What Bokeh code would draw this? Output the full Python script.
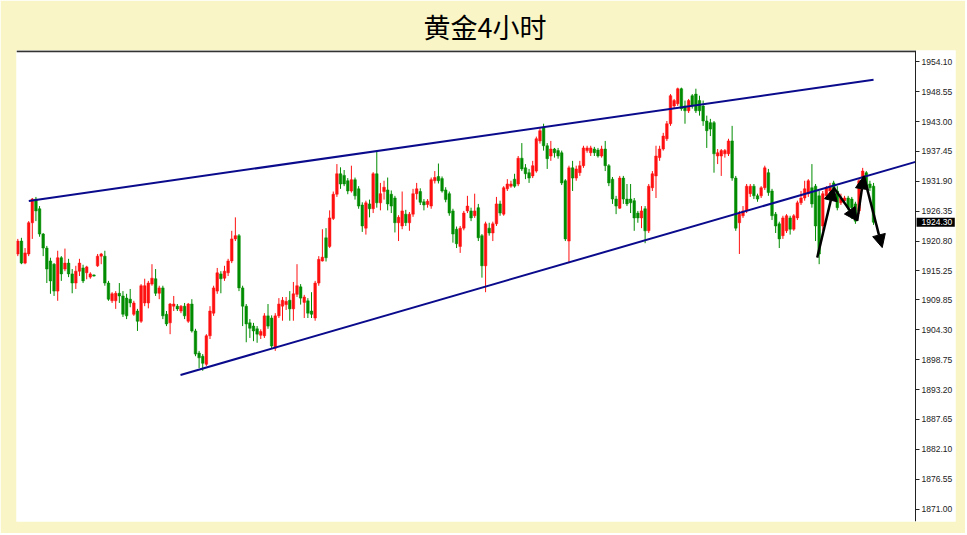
from bokeh.plotting import figure
from bokeh.models import (ColumnDataSource, Range1d, FixedTicker, PrintfTickFormatter,
                          Arrow, NormalHead)
from bokeh.core.properties import value
from bokeh.embed import file_html
from bokeh.resources import INLINE

# ---- data (4-hour gold candles) ----
opens = [1918.4, 1920.8, 1916.7, 1918.4, 1924.2, 1928.6, 1926.8, 1922.1, 1919.5, 1917.1,
         1916.5, 1911.5, 1917.7, 1915.6, 1916.7, 1914.7, 1913.0, 1915.2, 1915.8, 1914.9,
         1914.1, 1914.5, 1916.2, 1918.0, 1918.0, 1913.0, 1909.7, 1909.7, 1911.1, 1910.6,
         1910.2, 1910.0, 1907.2, 1907.8, 1905.9, 1909.3, 1909.3, 1912.8, 1913.8, 1911.1,
         1912.1, 1907.2, 1905.6, 1908.7, 1908.7, 1907.8, 1908.7, 1905.9, 1909.1, 1904.1,
         1900.0, 1899.4, 1897.9, 1903.2, 1907.4, 1911.5, 1914.7, 1913.9, 1914.9, 1917.1,
         1921.2, 1921.8, 1912.1, 1908.7, 1905.6, 1905.0, 1904.5, 1903.3, 1903.2, 1906.9,
         1906.5, 1900.9, 1906.9, 1908.7, 1909.0, 1909.8, 1908.2, 1910.9, 1912.3, 1909.4,
         1909.7, 1907.8, 1906.5, 1913.0, 1917.1, 1921.4, 1919.8, 1925.0, 1929.5, 1933.3,
         1933.0, 1932.0, 1930.1, 1932.2, 1930.5, 1927.5, 1923.2, 1927.7, 1926.8, 1933.3,
         1927.9, 1930.0, 1930.3, 1929.5, 1928.8, 1924.2, 1923.6, 1925.8, 1924.2, 1925.8,
         1929.6, 1930.0, 1928.1, 1927.6, 1927.3, 1932.0, 1932.8, 1932.4, 1930.3, 1929.6,
         1926.4, 1923.0, 1919.8, 1923.2, 1926.4, 1926.4, 1925.5, 1927.0, 1921.8, 1916.2,
         1923.2, 1922.3, 1924.0, 1927.7, 1925.8, 1930.5, 1931.0, 1932.3, 1931.4, 1936.2,
         1934.4, 1933.5, 1932.9, 1933.8, 1939.4, 1941.8, 1938.5, 1936.6, 1937.9, 1937.6,
         1937.2, 1932.0, 1920.8, 1934.4, 1932.5, 1933.5, 1934.8, 1937.6, 1937.2, 1937.9,
         1937.7, 1936.6, 1937.9, 1934.8, 1932.3, 1928.6, 1926.9, 1932.5, 1928.6, 1928.6,
         1928.3, 1926.0, 1925.1, 1926.8, 1922.7, 1930.7, 1932.9, 1936.3, 1937.9, 1939.8,
         1942.6, 1945.9, 1946.3, 1949.1, 1945.9, 1945.0, 1947.8, 1948.1, 1946.9, 1945.9,
         1943.1, 1942.8, 1942.8, 1936.6, 1936.6, 1937.0, 1937.0, 1939.4, 1932.5, 1924.2,
         1925.5, 1926.4, 1929.6, 1931.0, 1929.2, 1929.2, 1930.7, 1933.5, 1930.1, 1925.8,
         1924.0, 1921.8, 1922.7, 1925.1, 1923.0, 1925.1, 1927.9, 1928.8, 1929.6, 1930.7,
         1931.0, 1929.2, 1923.6, 1929.2, 1930.1, 1931.6, 1930.1, 1927.9, 1928.3, 1928.8,
         1928.6, 1927.7, 1926.4, 1932.5, 1933.5, 1931.4, 1931.0]
highs = [1921.2, 1921.4, 1919.5, 1924.5, 1928.8, 1929.0, 1927.3, 1922.3, 1919.9, 1917.7,
         1916.7, 1919.0, 1918.0, 1919.4, 1917.5, 1915.6, 1916.2, 1917.5, 1916.4, 1916.2,
         1915.0, 1914.6, 1918.4, 1918.6, 1919.0, 1913.4, 1911.3, 1911.5, 1913.0, 1911.5,
         1911.0, 1911.9, 1909.7, 1908.2, 1912.8, 1913.8, 1913.4, 1916.5, 1915.6, 1912.5,
         1912.5, 1907.8, 1909.3, 1910.6, 1909.1, 1908.9, 1909.3, 1909.3, 1910.0, 1904.5,
         1900.4, 1899.8, 1903.5, 1908.7, 1912.5, 1915.8, 1915.2, 1916.2, 1917.5, 1922.7,
         1925.2, 1922.1, 1912.5, 1909.1, 1906.3, 1905.6, 1905.0, 1904.4, 1907.4, 1909.1,
         1907.0, 1907.4, 1910.2, 1910.4, 1910.4, 1911.5, 1913.2, 1916.5, 1912.8, 1910.8,
         1910.2, 1911.3, 1913.4, 1918.0, 1923.0, 1923.2, 1926.5, 1930.0, 1935.1, 1934.5,
         1934.0, 1932.5, 1934.8, 1932.6, 1931.0, 1928.0, 1928.3, 1928.5, 1933.6, 1937.6,
         1931.6, 1932.0, 1932.6, 1930.2, 1929.2, 1925.6, 1930.0, 1926.6, 1926.2, 1930.5,
         1931.6, 1930.6, 1928.6, 1928.6, 1932.6, 1933.8, 1935.2, 1932.8, 1930.8, 1930.0,
         1926.8, 1923.5, 1923.6, 1926.4, 1929.2, 1927.0, 1929.6, 1927.7, 1922.1, 1924.4,
         1924.2, 1924.4, 1929.0, 1928.3, 1931.0, 1932.3, 1932.0, 1933.3, 1936.6, 1939.0,
         1935.1, 1934.2, 1935.7, 1940.2, 1941.8, 1942.6, 1939.0, 1939.4, 1938.1, 1938.1,
         1937.6, 1932.3, 1934.8, 1935.7, 1934.8, 1935.7, 1938.5, 1938.5, 1938.5, 1938.3,
         1938.1, 1938.5, 1939.4, 1935.1, 1932.7, 1929.2, 1932.9, 1932.9, 1931.4, 1931.4,
         1928.8, 1926.4, 1927.3, 1927.3, 1931.4, 1933.8, 1938.5, 1938.5, 1940.9, 1943.1,
         1948.1, 1947.2, 1949.3, 1949.3, 1946.9, 1947.2, 1948.1, 1949.1, 1947.8, 1946.9,
         1944.1, 1943.5, 1943.1, 1937.9, 1937.9, 1937.9, 1939.8, 1942.2, 1932.9, 1926.4,
         1927.3, 1931.4, 1931.4, 1931.4, 1929.6, 1931.0, 1934.8, 1934.2, 1930.5, 1926.2,
         1924.4, 1925.5, 1925.8, 1925.5, 1925.8, 1928.3, 1930.1, 1932.0, 1932.3, 1935.1,
         1931.4, 1930.1, 1930.1, 1931.0, 1931.6, 1932.0, 1931.0, 1929.6, 1929.2, 1929.2,
         1929.0, 1928.1, 1932.3, 1934.4, 1933.8, 1932.0, 1931.6]
lows = [1918.0, 1916.5, 1916.5, 1918.0, 1921.2, 1924.5, 1921.6, 1918.0, 1913.0, 1911.0,
        1910.6, 1909.7, 1913.4, 1915.2, 1914.1, 1911.1, 1911.9, 1914.3, 1913.0, 1913.7,
        1913.8, 1914.2, 1916.0, 1916.5, 1912.5, 1909.7, 1909.3, 1908.2, 1909.3, 1906.7,
        1906.3, 1908.5, 1906.9, 1904.1, 1905.6, 1908.7, 1908.3, 1912.5, 1910.6, 1910.0,
        1906.3, 1905.0, 1903.5, 1907.8, 1907.8, 1907.4, 1906.3, 1905.6, 1903.8, 1899.4,
        1897.2, 1896.7, 1897.6, 1902.6, 1906.9, 1911.0, 1911.1, 1913.4, 1914.3, 1916.7,
        1920.8, 1911.5, 1905.0, 1902.0, 1902.8, 1902.2, 1901.9, 1902.6, 1902.8, 1904.5,
        1900.9, 1900.4, 1906.5, 1906.0, 1908.0, 1906.0, 1906.0, 1910.4, 1909.0, 1906.5,
        1906.5, 1906.5, 1906.0, 1912.5, 1917.0, 1917.0, 1919.5, 1924.7, 1929.0, 1930.5,
        1931.0, 1929.5, 1929.8, 1928.5, 1926.8, 1922.5, 1922.0, 1925.2, 1926.0, 1927.0,
        1926.5, 1928.5, 1926.5, 1926.0, 1922.4, 1920.8, 1923.0, 1923.6, 1922.7, 1925.3,
        1928.5, 1927.5, 1926.5, 1927.0, 1926.8, 1931.5, 1931.5, 1929.8, 1928.0, 1925.5,
        1920.5, 1919.5, 1918.6, 1922.8, 1926.0, 1924.5, 1925.1, 1920.8, 1914.0, 1911.3,
        1921.8, 1920.8, 1923.6, 1925.5, 1925.5, 1930.1, 1930.7, 1930.7, 1931.0, 1933.8,
        1932.3, 1931.6, 1932.5, 1933.5, 1938.9, 1937.6, 1934.2, 1935.7, 1936.3, 1936.1,
        1931.2, 1920.8, 1916.7, 1930.1, 1932.0, 1932.9, 1934.4, 1937.2, 1936.6, 1936.6,
        1936.3, 1936.3, 1933.8, 1931.0, 1927.7, 1925.8, 1926.8, 1927.7, 1927.3, 1926.0,
        1922.7, 1924.2, 1923.2, 1920.4, 1922.3, 1930.1, 1928.8, 1935.7, 1937.6, 1939.4,
        1942.2, 1945.4, 1945.9, 1945.0, 1942.6, 1944.6, 1945.4, 1944.6, 1944.1, 1942.2,
        1938.1, 1940.3, 1933.5, 1935.1, 1932.9, 1936.3, 1936.6, 1932.0, 1922.7, 1918.4,
        1925.1, 1926.0, 1929.0, 1928.6, 1928.1, 1928.8, 1930.3, 1929.2, 1924.7, 1922.3,
        1919.5, 1921.2, 1922.3, 1922.0, 1922.7, 1924.7, 1927.5, 1928.3, 1929.0, 1927.0,
        1920.8, 1916.5, 1922.7, 1928.8, 1929.6, 1929.8, 1926.5, 1927.5, 1928.0, 1926.5,
        1924.9, 1924.0, 1925.8, 1932.0, 1930.5, 1930.1, 1923.8]
closes = [1920.8, 1916.7, 1918.6, 1924.2, 1928.6, 1926.4, 1922.1, 1919.5, 1915.6, 1913.4,
          1911.5, 1917.7, 1914.7, 1916.7, 1914.7, 1913.0, 1915.2, 1916.7, 1913.4, 1916.0,
          1914.7, 1914.3, 1918.0, 1918.4, 1913.0, 1910.0, 1911.0, 1911.1, 1910.6, 1907.2,
          1906.9, 1909.3, 1909.3, 1905.9, 1912.5, 1912.5, 1913.0, 1913.9, 1911.1, 1912.1,
          1906.9, 1905.4, 1909.1, 1909.1, 1908.2, 1908.7, 1906.9, 1909.1, 1904.1, 1899.8,
          1899.1, 1898.1, 1903.2, 1907.8, 1912.1, 1914.9, 1913.8, 1915.2, 1917.1, 1921.2,
          1921.8, 1912.1, 1908.7, 1905.4, 1904.6, 1904.1, 1903.5, 1904.0, 1906.9, 1905.0,
          1901.3, 1906.9, 1909.1, 1909.8, 1909.6, 1908.2, 1911.0, 1912.5, 1910.2, 1910.4,
          1907.4, 1907.2, 1913.0, 1917.4, 1917.8, 1917.7, 1925.1, 1929.5, 1933.3, 1931.4,
          1931.4, 1930.1, 1932.2, 1929.2, 1927.3, 1923.6, 1927.9, 1926.8, 1933.3, 1927.9,
          1929.6, 1930.8, 1927.7, 1927.3, 1924.2, 1925.2, 1926.4, 1924.2, 1925.8, 1929.6,
          1930.5, 1928.0, 1927.5, 1928.2, 1932.2, 1932.6, 1932.0, 1930.1, 1928.5, 1926.0,
          1922.1, 1920.3, 1923.2, 1926.0, 1927.3, 1925.1, 1926.4, 1921.4, 1916.2, 1924.0,
          1922.3, 1924.0, 1927.7, 1926.0, 1930.7, 1931.4, 1931.4, 1931.0, 1936.2, 1934.2,
          1933.3, 1932.5, 1934.8, 1939.8, 1941.3, 1938.5, 1936.1, 1937.9, 1937.2, 1936.6,
          1931.6, 1921.2, 1934.4, 1932.5, 1934.2, 1934.8, 1938.1, 1938.1, 1938.1, 1937.2,
          1936.6, 1937.9, 1934.8, 1931.6, 1928.6, 1927.3, 1932.5, 1928.6, 1927.7, 1927.9,
          1925.1, 1925.1, 1926.4, 1922.7, 1931.0, 1933.3, 1936.6, 1937.9, 1940.3, 1942.6,
          1947.8, 1946.9, 1949.1, 1945.4, 1945.0, 1946.9, 1945.9, 1945.0, 1945.0, 1943.1,
          1941.3, 1941.6, 1937.0, 1937.2, 1937.6, 1937.6, 1939.4, 1932.5, 1923.2, 1925.8,
          1926.4, 1931.0, 1931.0, 1929.2, 1928.6, 1930.7, 1934.4, 1929.8, 1925.5, 1923.6,
          1921.2, 1925.1, 1925.5, 1923.0, 1925.5, 1927.9, 1928.8, 1930.5, 1932.0, 1927.7,
          1923.6, 1918.4, 1929.6, 1930.7, 1931.0, 1930.5, 1927.0, 1928.8, 1928.8, 1927.0,
          1927.0, 1924.5, 1932.0, 1933.8, 1931.0, 1930.7, 1924.3]

tick_values = [1954.10, 1948.55, 1943.00, 1937.45, 1931.90, 1926.35, 1920.80, 1915.25,
               1909.85, 1904.30, 1898.75, 1893.20, 1887.65, 1882.10, 1876.55, 1871.00]
last_price = 1924.30

# analyst drawings (candle index, price)
upper_x = [3.03, 236.0]
upper_y = [1928.26, 1950.75]
lower_x = [44.87, 247.57]
lower_y = [1895.91, 1935.51]
arrow_x = [220.46, 225.04, 231.49, 233.32, 238.39]
arrow_y = [1917.72, 1930.73, 1924.54, 1932.91, 1919.58]

# ---- chart ----
BG = "#FAF5C6"
UP = "#FF1010"
DOWN = "#008C00"
X0, X_AXIS, X1 = -0.36, 247.57, 258.6
Y0, Y1 = 1868.7, 1956.2

idx = list(range(len(closes)))
colors = [UP if c >= o else DOWN for o, c in zip(opens, closes)]
top = [max(o, c) for o, c in zip(opens, closes)]
bot = [min(o, c) for o, c in zip(opens, closes)]
src = ColumnDataSource(dict(x=idx, o=opens, h=highs, l=lows, c=closes,
                            top=top, bot=bot, color=colors))

p = figure(frame_width=939, frame_height=471,
           x_range=Range1d(X0, X1), y_range=Range1d(Y0, Y1),
           output_backend="svg", toolbar_location=None,
           y_axis_location="right", x_axis_location=None,
           min_border_left=16, min_border_right=10, min_border_top=50, min_border_bottom=12,
           background_fill_color="white", border_fill_color=BG,
           outline_line_color=None, title="黄金4小时")

p.title.text_font = "Noto Sans CJK SC"
p.title.text_font_size = "27px"
p.title.text_font_style = "normal"
p.title.text_color = "black"
p.title.align = "left"
p.title.offset = 407
p.title.standoff = 8
p.title.vertical_align = "middle"

p.grid.grid_line_color = None

ax = p.yaxis[0]
ax.fixed_location = X_AXIS
ax.ticker = FixedTicker(ticks=tick_values)
ax.formatter = PrintfTickFormatter(format="%.2f")
ax.major_label_text_font = "Liberation Sans"
ax.major_label_text_font_size = "8.5px"
ax.major_label_text_color = "#222222"
ax.axis_line_color = "#222222"
ax.major_tick_line_color = "#222222"
ax.major_tick_out = 4
ax.major_tick_in = 0
ax.minor_tick_out = 0
ax.minor_tick_in = 0
ax.major_label_standoff = 2

# dark top edge of the price pane
p.line([X0, X_AXIS], [Y1 - 0.15, Y1 - 0.15], line_color="#333333", line_width=2)

p.segment(x0="x", y0="l", x1="x", y1="h", color="color", line_width=1, source=src)
p.vbar(x="x", top="top", bottom="bot", width=0.72, fill_color="color",
       line_color="color", line_width=0.5, source=src)

p.line(upper_x, upper_y, line_color="#0A0A8C", line_width=2)
p.line(lower_x, lower_y, line_color="#0A0A8C", line_width=2)

for i in range(len(arrow_x) - 1):
    p.add_layout(Arrow(end=NormalHead(size=13, fill_color="black", line_color="black"),
                       x_start=arrow_x[i], y_start=arrow_y[i],
                       x_end=arrow_x[i + 1], y_end=arrow_y[i + 1],
                       line_color="black", line_width=2.5))

# current-price tag on the price scale
p.quad(left=[X_AXIS + 0.3], right=[X1 - 0.2], top=[last_price + 0.85],
       bottom=[last_price - 0.85], fill_color="black", line_color=None)
p.text(x=[X_AXIS], y=[last_price], text=["%.2f" % last_price], x_offset=6,
       text_color="white", text_font=value("Liberation Sans"), text_font_size="8.5px",
       text_baseline="middle", text_align="left")

html = file_html(p, INLINE, title="黄金4小时")
html = html.replace("<body>", '<body style="background-color:%s;">' % BG, 1)
open("out.html", "w").write(html)
